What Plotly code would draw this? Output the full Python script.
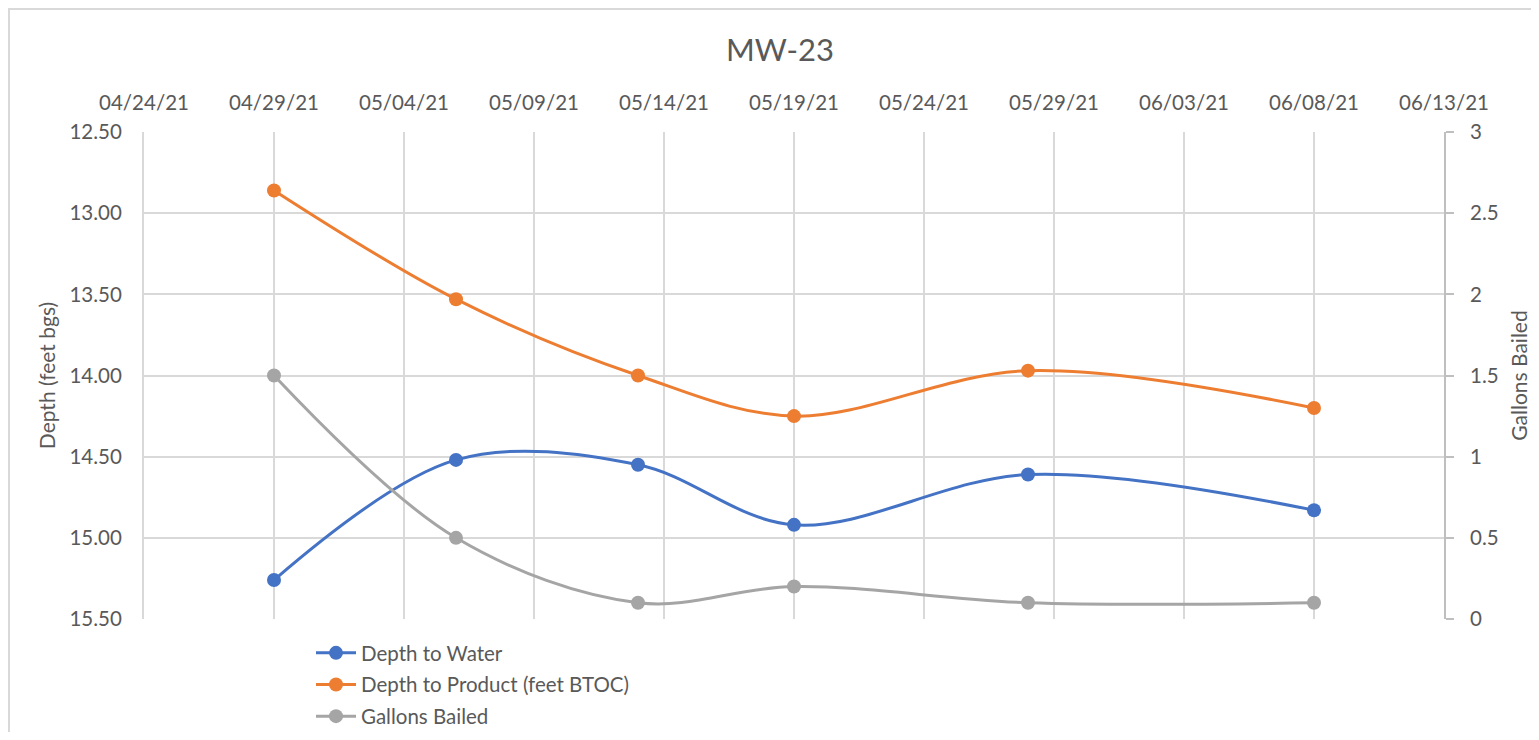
import plotly.graph_objects as go

dates = ["2021-04-29", "2021-05-06", "2021-05-13", "2021-05-19", "2021-05-28", "2021-06-08"]
depth_water = [15.26, 14.52, 14.55, 14.92, 14.61, 14.83]
depth_product = [12.86, 13.53, 14.00, 14.25, 13.97, 14.20]
gallons = [1.5, 0.5, 0.1, 0.2, 0.1, 0.1]

FONT = "Lato"
TXT = "#595959"
GRID = "#D9D9D9"
TS = 20.5

# page body has an 8px margin; size the figure so it fits without scrollbars
L, T, PW, PH = 136, 124, 1300, 487
W, H = 1523, 724

fig = go.Figure()
fig.add_trace(go.Scatter(x=dates, y=depth_water, name="Depth to Water", mode="lines+markers",
                         legendgroup="a",
                         line=dict(color="#4472C4", width=3, shape="spline", smoothing=1.0),
                         marker=dict(size=14, color="#4472C4")))
fig.add_trace(go.Scatter(x=dates, y=depth_product, name="Depth to Product (feet BTOC)", mode="lines+markers",
                         legendgroup="b",
                         line=dict(color="#ED7D31", width=3, shape="spline", smoothing=1.0),
                         marker=dict(size=14, color="#ED7D31")))
fig.add_trace(go.Scatter(x=dates, y=gallons, name="Gallons Bailed", mode="lines+markers", yaxis="y2",
                         legendgroup="c",
                         line=dict(color="#A5A5A5", width=3, shape="spline", smoothing=1.0),
                         marker=dict(size=14, color="#A5A5A5")))

fig.update_layout(
    width=W, height=H,
    margin=dict(l=L, r=W - L - PW, t=T, b=H - T - PH, autoexpand=False),
    paper_bgcolor="white", plot_bgcolor="white",
    font=dict(family=FONT, color=TXT, size=TS),
    title=dict(text="MW-23", x=772 / W, xanchor="center", y=1 - 42 / H, yanchor="middle",
               font=dict(size=31, color=TXT, family=FONT)),
    xaxis=dict(type="date", side="top", range=["2021-04-24", "2021-06-13"], automargin=False,
               tick0="2021-04-24", dtick=5 * 86400000, tickformat="%m/%d/%y",
               showgrid=True, gridcolor=GRID, gridwidth=2, showline=False, zeroline=False,
               ticks="", ticklabelstandoff=17, tickfont=dict(size=TS, color=TXT)),
    yaxis=dict(range=[15.5, 12.5], dtick=0.5, tickformat=".2f", showgrid=True, gridcolor=GRID,
               gridwidth=2, showline=True, linecolor=GRID, linewidth=2, zeroline=False, ticks="",
               automargin=False, ticklabelstandoff=16,
               title=dict(text="Depth (feet bgs)", font=dict(size=21, color=TXT), standoff=8),
               tickfont=dict(size=TS, color=TXT)),
    yaxis2=dict(range=[0, 3], dtick=0.5, overlaying="y", side="right", showgrid=False,
                showline=True, linecolor="#BFBFBF", linewidth=2, ticks="outside", ticklen=8,
                tickcolor="#BFBFBF", tickwidth=2, zeroline=False, automargin=False,
                ticklabelstandoff=12,
                title=dict(text="Gallons Bailed", font=dict(size=21, color=TXT), standoff=22),
                tickfont=dict(size=TS, color=TXT)),
    legend=dict(x=(303 - L) / PW, xanchor="left", y=(T + PH - 625) / PH, yanchor="top",
                bgcolor="rgba(0,0,0,0)", font=dict(size=TS, color=TXT), tracegroupgap=2,
                itemwidth=40),
    showlegend=True,
)

fig.add_shape(type="rect", xref="paper", yref="paper",
              x0=(1 - L) / PW, x1=(W + 20 - L) / PW,
              y0=(T + PH - (H + 20)) / PH, y1=(T + PH - 1) / PH,
              line=dict(color="#D9D9D9", width=2), fillcolor="rgba(0,0,0,0)", layer="below")

fig.write_html("out.html")
